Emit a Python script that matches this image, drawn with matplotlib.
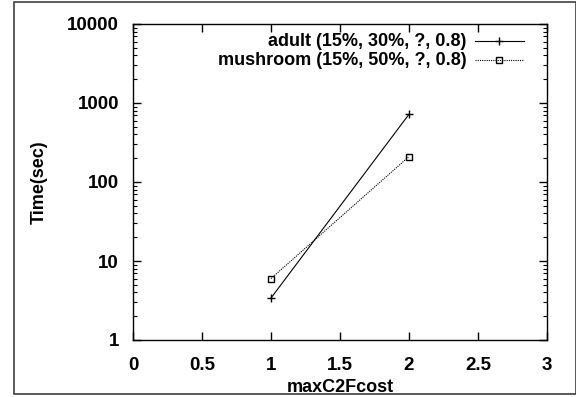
import matplotlib
matplotlib.use("Agg")
import matplotlib.pyplot as plt
from matplotlib.patches import Rectangle
from matplotlib.ticker import LogLocator, NullFormatter

plt.rcParams['font.family'] = ['Liberation Sans', 'DejaVu Sans']
plt.rcParams['font.weight'] = 'bold'

x_vals = [1, 2]
adult = [3.4, 720]
mushroom = [6.0, 210]
labels = ["adult (15%, 30%, ?, 0.8)", "mushroom (15%, 50%, ?, 0.8)"]
xticks = [0, 0.5, 1, 1.5, 2, 2.5, 3]
xtick_labels = ["0", "0.5", "1", "1.5", "2", "2.5", "3"]
yticks = [1, 10, 100, 1000, 10000]
ytick_labels = ["1", "10", "100", "1000", "10000"]

fig = plt.figure(figsize=(5.76, 3.97), dpi=100)
ax = fig.add_axes([133/576, 1-340/397, (547-133)/576, (340-24)/397])

ax.plot(x_vals, adult, color='black', lw=0.8, marker='+', ms=6, mew=1.0)
ax.plot(x_vals, mushroom, color='black', lw=0.8, ls=(0, (1, 1)), marker='s', ms=5,
        mfc='none', mec='black', mew=1.0)

ax.set_yscale('log')
ax.set_xlim(0, 3)
ax.set_ylim(1, 10000)
ax.set_xticks(xticks)
ax.set_xticklabels(xtick_labels)
ax.set_yticks(yticks)
ax.set_yticklabels(ytick_labels)
ax.yaxis.set_minor_locator(LogLocator(base=10, subs=range(2, 10)))
ax.yaxis.set_minor_formatter(NullFormatter())

ax.tick_params(which='both', direction='in', top=True, right=True, labelsize=13.5)
ax.tick_params(which='major', length=6, width=1)
ax.tick_params(which='minor', length=3, width=0.8)
ax.tick_params(axis='x', which='major', pad=12)
ax.tick_params(axis='y', which='major', pad=10)
for s in ax.spines.values():
    s.set_linewidth(1.0)

ax.set_xlabel("maxC2Fcost", fontsize=13, fontweight='bold', labelpad=4)
ax.set_ylabel("Time(sec)", fontsize=13, fontweight='bold', labelpad=14)

# gnuplot-style legend: text right-aligned, sample to the right
styles = [dict(ls='-', marker='+', ms=6, mew=1.0, mfc='none'),
          dict(ls=(0, (1, 1)), marker='s', ms=5, mew=1.0, mfc='none')]
ys = [0.945, 0.885]
for lab, st, yy in zip(labels, styles, ys):
    ax.text(0.805, yy, lab, transform=ax.transAxes, ha='right', va='center',
            fontsize=13, fontweight='bold')
    ax.plot([0.825, 0.945], [yy, yy], transform=ax.transAxes, color='black',
            lw=0.8, ls=st['ls'])
    ax.plot([0.885], [yy], transform=ax.transAxes, color='black',
            marker=st['marker'], ms=st['ms'], mew=st['mew'], mfc=st['mfc'], mec='black')

# outer frame
fig.patches.append(Rectangle((14/576, 3/397), 1 - 14/576 - 0.5/576, 1 - 5/397,
                             transform=fig.transFigure, fill=False,
                             edgecolor='#404040', lw=1.2))

fig.savefig("out.png", dpi=100)
